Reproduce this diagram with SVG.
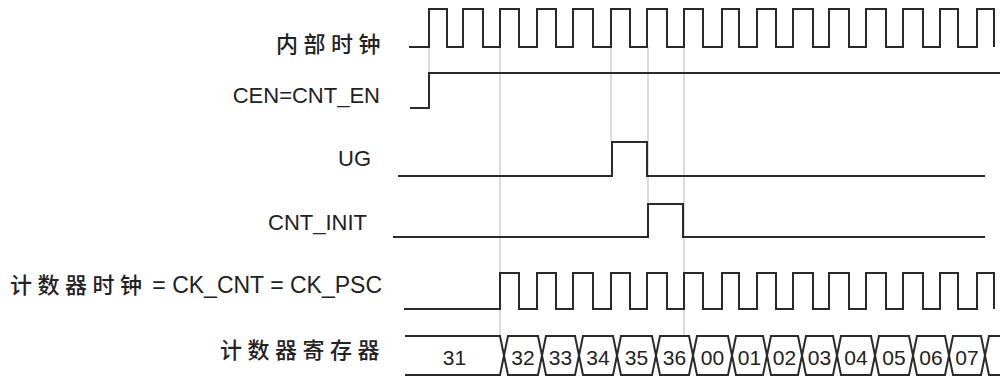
<svg xmlns="http://www.w3.org/2000/svg" width="1001" height="378" viewBox="0 0 1001 378">
<style>
.w{fill:none;stroke:#2a2a2a;stroke-width:2;stroke-linejoin:miter;stroke-linecap:butt}
.g{fill:none;stroke:#d2d2d2;stroke-width:1.5}
.lbl{font-family:"Liberation Sans","Noto Sans CJK SC",sans-serif;font-size:22px;fill:#222}
.cjk{font-family:"Noto Sans CJK SC","Liberation Sans",sans-serif;font-size:22px;font-weight:500;letter-spacing:5.5px;fill:#222}
.end{text-anchor:end}
.num{font-family:"Liberation Sans",sans-serif;font-size:21px;fill:#222;text-anchor:middle}
</style>
<rect width="1001" height="378" fill="#fff"/>
<g id="guides">
<path class="g" d="M429,47V108M500,47V336M611,47V142M648,47V204M684,47V336"/>
</g>
<g id="internal-clock">
<text class="cjk" x="276" y="51.5">内部时钟</text>
<path class="w" d="M409,47H429V9H447V47H463V9H483V47H500V9H519V47H537V9H556V47H573V9H593V47H611V9H630V47H647V9H667V47H684V9H703V47H722V9H739V47H757V9H776V47H793V9H813V47H829V9H849V47H866V9H886V47H903V9H923V47H940V9H958V47H977V9H994V47"/>
</g>
<g id="cen">
<text class="lbl end" x="380" y="103">CEN=CNT_EN</text>
<path class="w" d="M410,108H429V73H1000"/>
</g>
<g id="ug">
<text class="lbl end" x="371" y="166">UG</text>
<path class="w" d="M398,176H612V142H647V176H985"/>
</g>
<g id="cnt-init">
<text class="lbl end" x="367" y="230">CNT_INIT</text>
<path class="w" d="M393,237H648V204H683V237H985"/>
</g>
<g id="ck-cnt">
<text class="cjk" x="10" y="293">计数器时钟</text>
<text class="lbl end" x="382" y="293" style="font-size:23px">= CK_CNT = CK_PSC</text>
<path class="w" d="M404,309H500V273H519V309H537V273H556V309H573V273H593V309H611V273H630V309H647V273H667V309H684V273H703V309H722V273H739V309H757V273H776V309H793V273H813V309H829V273H849V309H866V273H886V309H903V273H923V309H940V273H958V309H977V273H994V309"/>
</g>
<g id="counter-register">
<text class="cjk" x="220" y="358">计数器寄存器</text>
<path class="w" d="M405,336H500L508,375H538L546,336H575L583,375H613L621,336H652L660,375H689L697,336H728L736,375H763L771,336H798L806,375H833L841,336H871L879,375H909L917,336H945L953,375H981L989,336H1000"/>
<path class="w" d="M405,375H500L508,336H538L546,375H575L583,336H613L621,375H652L660,336H689L697,375H728L736,336H763L771,375H798L806,336H833L841,375H871L879,336H909L917,375H945L953,336H981L989,375H1000"/>
<text class="num" x="454.5" y="365">31</text>
<text class="num" x="523" y="365">32</text>
<text class="num" x="560.5" y="365">33</text>
<text class="num" x="598" y="365">34</text>
<text class="num" x="636.5" y="365">35</text>
<text class="num" x="674.5" y="365">36</text>
<text class="num" x="712.5" y="365">00</text>
<text class="num" x="749.5" y="365">01</text>
<text class="num" x="784.5" y="365">02</text>
<text class="num" x="819.5" y="365">03</text>
<text class="num" x="856" y="365">04</text>
<text class="num" x="894" y="365">05</text>
<text class="num" x="931" y="365">06</text>
<text class="num" x="967" y="365">07</text>
</g>
</svg>
